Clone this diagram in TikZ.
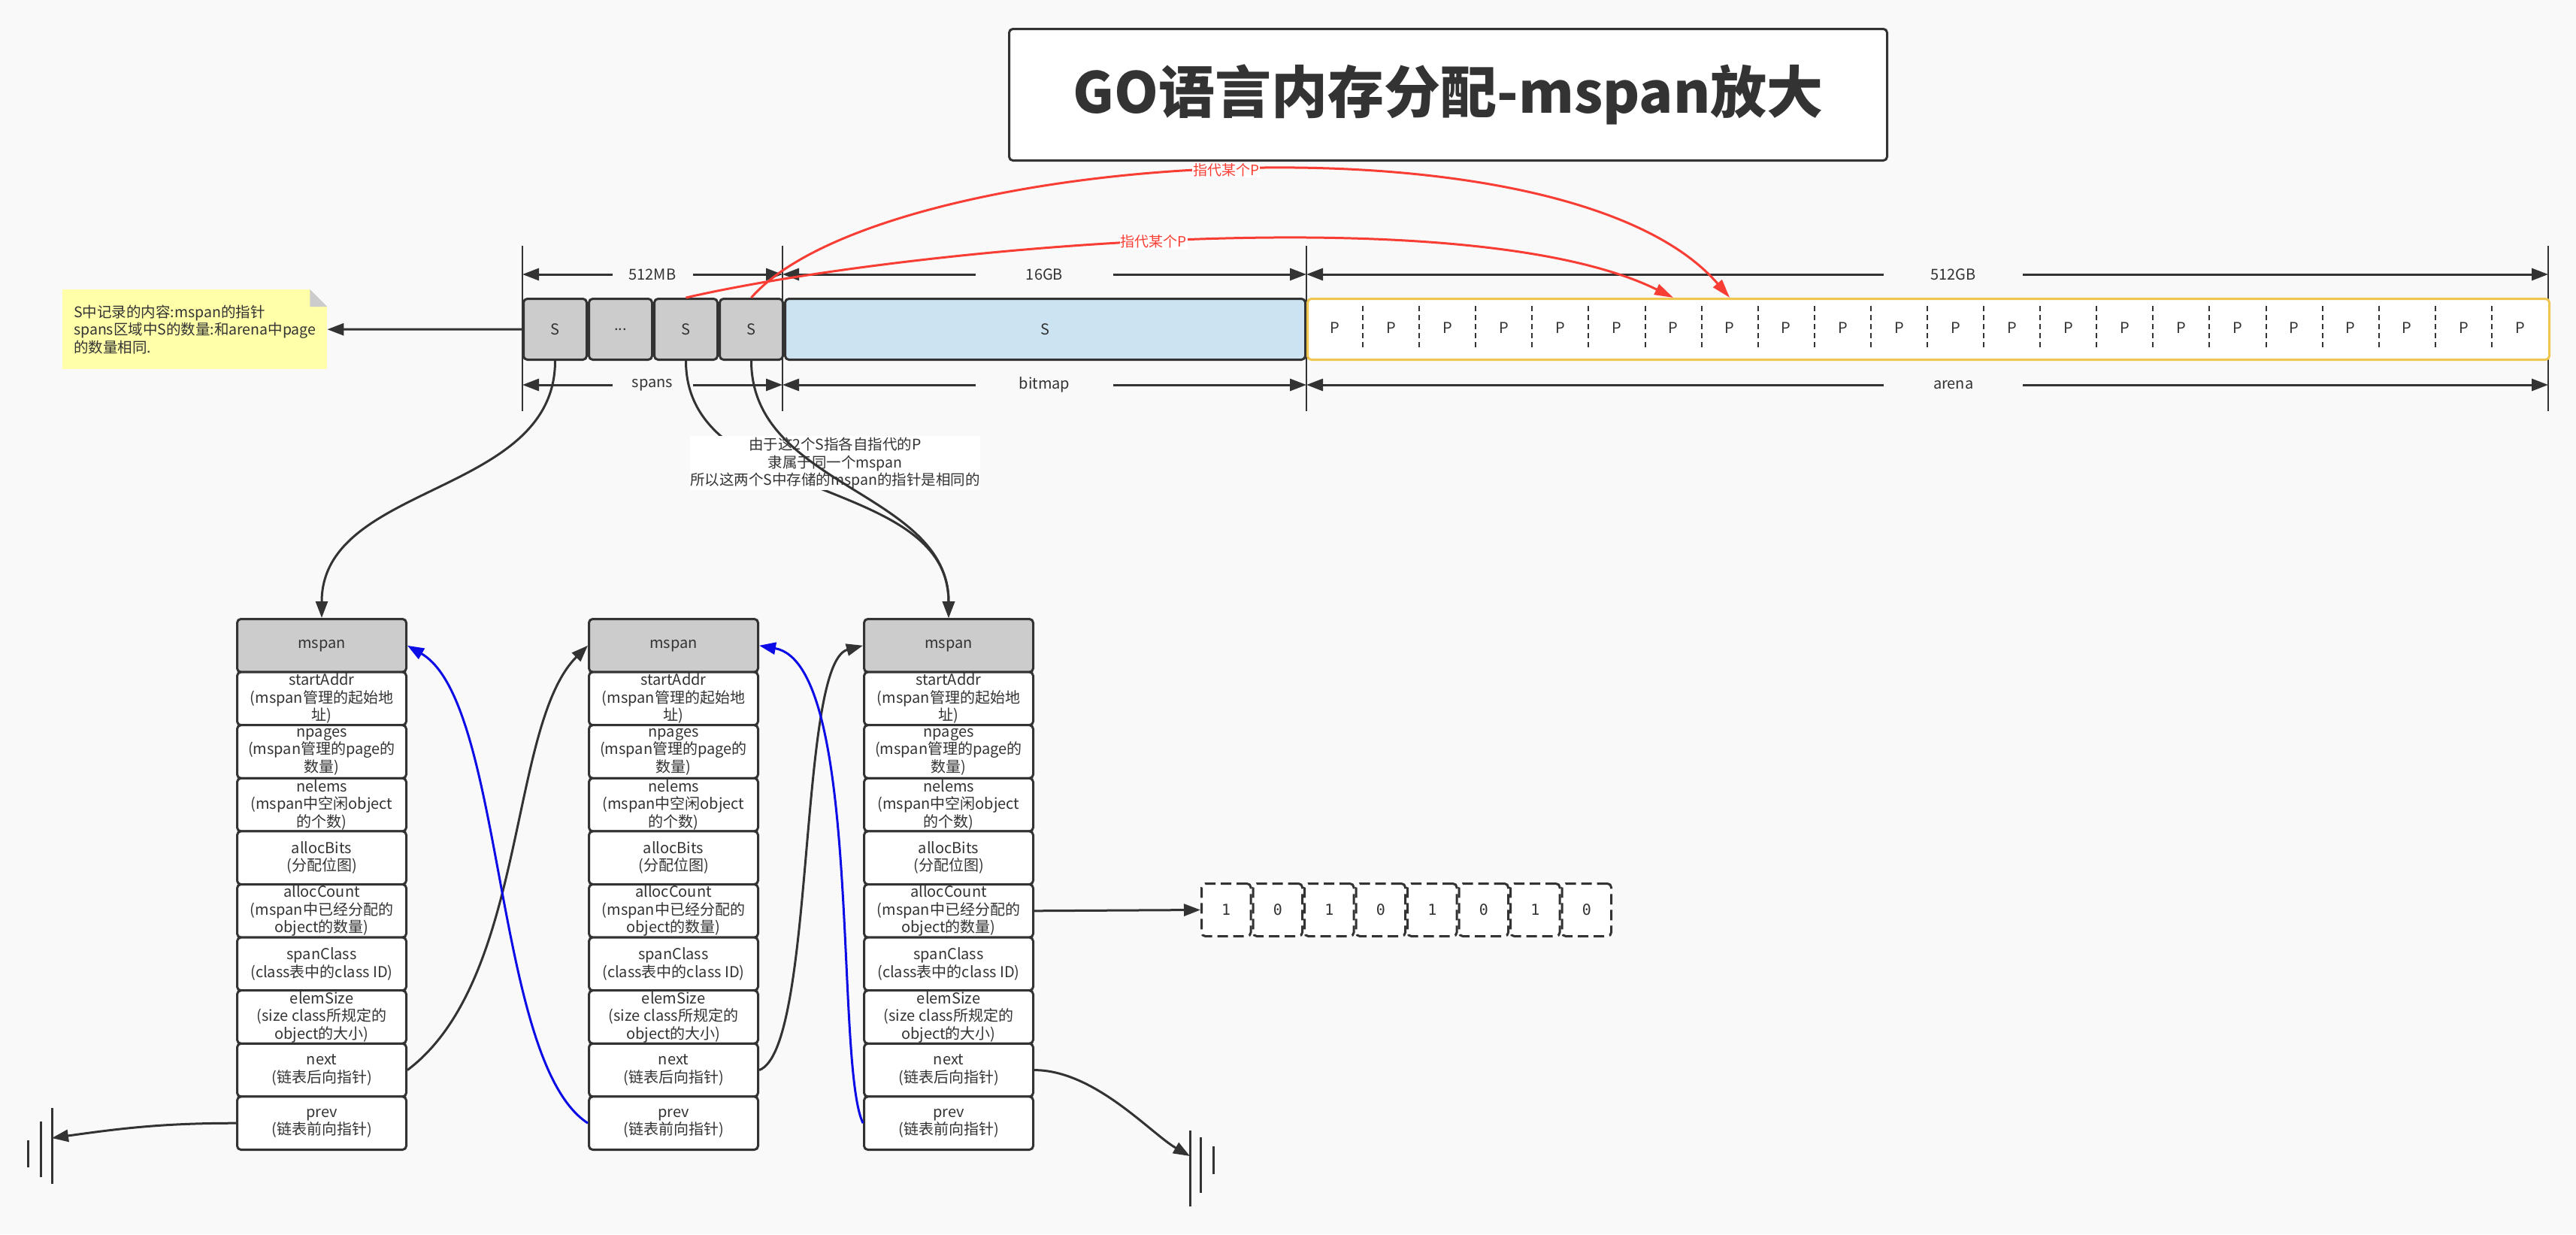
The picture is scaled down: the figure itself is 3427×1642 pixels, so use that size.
\documentclass[tikz,border=0pt]{standalone}
\usepackage{fontspec}
\setmainfont{Noto Sans CJK SC}
\setmonofont{DejaVu Sans Mono}
\usetikzlibrary{positioning,arrows.meta}
\definecolor{bgc}{RGB}{249,249,249}
\definecolor{linec}{RGB}{51,51,51}
\definecolor{sgray}{RGB}{204,204,204}
\definecolor{bmapc}{RGB}{204,228,242}
\definecolor{arenac}{RGB}{238,198,80}
\definecolor{notec}{RGB}{255,255,170}
\definecolor{redc}{RGB}{248,62,52}
\definecolor{bluec}{RGB}{12,12,230}
\newcommand\fsmall{\fontsize{20}{23.5}\selectfont}
\newcommand\fnote{\fontsize{19.5}{23.5}\selectfont}
\tikzset{
  cell/.style={draw=linec, line width=3pt, rounded corners=5pt, text=linec, align=center, inner sep=0pt, font=\fsmall},
  sbox/.style={cell, fill=sgray, minimum width=84pt, minimum height=81pt},
  headbox/.style={cell, fill=sgray, minimum width=225pt, minimum height=70.6pt, anchor=north west},
  fieldbox/.style={cell, fill=white, minimum width=225pt, minimum height=70.6pt, anchor=north west},
  bitbox/.style={cell, fill=white, dash pattern=on 14pt off 7pt, minimum width=65.5pt, minimum height=70pt, font=\ttfamily\fsmall},
  ptext/.style={text=linec, font=\fsmall, inner sep=0pt},
  extline/.style={draw=linec, line width=2.5pt},
  dimline/.style={draw=linec, line width=3pt, {Triangle[length=22pt,width=16pt]}-{Triangle[length=22pt,width=16pt]}},
  dimlabel/.style={fill=bgc, text=linec, font=\fsmall, inner sep=0pt, minimum height=26pt},
  link/.style={draw=linec, line width=3pt, -{Triangle[length=22pt,width=16pt]}},
  backlink/.style={link, draw=bluec},
  pointer/.style={draw=redc, line width=3pt, -{Triangle[length=25pt,width=15pt]}},
  redlabel/.style={fill=white, text=redc, font=\fontsize{19}{22}\selectfont, inner sep=1pt},
  gline/.style={draw=linec, line width=3pt}
}
\begin{document}
\begin{tikzpicture}[x=1pt, y=1pt]
	\fill[bgc] (0,0) rectangle (3427,-1642);
	\useasboundingbox (0,0) rectangle (3427,-1642);
	\node[cell, fill=white, minimum width=1168pt, minimum height=175pt, font=\fontsize{75}{85}\selectfont\bfseries, anchor=north west] (title) at (1341,-37) {GO语言内存分配-mspan放大};
	\foreach \x in {695,1041,1738,3390}
		\draw[extline] (\x,-327) -- (\x,-547);
	\node[sbox, anchor=north west] (s1) at (695,-396) {S};
	\node[sbox, right=0pt of s1] (sdots) {...};
	\node[sbox, right=0pt of sdots] (s3) {S};
	\node[sbox, right=0pt of s3] (s4) {S};
	\node[cell, fill=bmapc, minimum width=692pt, minimum height=81pt, right=0pt of s4] (bmap) {S};
	\node[cell, draw=arenac, fill=white, minimum width=1652pt, minimum height=81pt, right=0pt of bmap] (arena) {};
	\foreach \k in {1,...,22}
		\node[ptext] (p\k) at ({1738+(\k-0.5)*75.09},-436.5) {P};
	\foreach \k in {1,...,21}
		\draw[linec, line width=2pt, dash pattern=on 7pt off 5pt] ({1738+\k*75.09},-407) -- ({1738+\k*75.09},-465);
	\coordinate (d0t) at (695,-365);
	\coordinate (d1t) at (1041,-365);
	\coordinate (d2t) at (1738,-365);
	\coordinate (d3t) at (3390,-365);
	\coordinate (d0b) at (695,-512);
	\coordinate (d1b) at (1041,-512);
	\coordinate (d2b) at (1738,-512);
	\coordinate (d3b) at (3390,-512);
	\draw[dimline] (d0t) -- node[dimlabel, minimum width=107pt] (mb512) {512MB} (d1t);
	\draw[dimline] (d1t) -- node[dimlabel, minimum width=183pt] (gb16) {16GB} (d2t);
	\draw[dimline] (d2t) -- node[dimlabel, pos=0.521, minimum width=185pt] (gb512) {512GB} (d3t);
	\draw[dimline] (d0b) -- node[dimlabel, minimum width=107pt] (spanslbl) {spans} (d1b);
	\draw[dimline] (d1b) -- node[dimlabel, minimum width=183pt] (bitmaplbl) {bitmap} (d2b);
	\draw[dimline] (d2b) -- node[dimlabel, pos=0.521, minimum width=185pt] (arenalbl) {arena} (d3b);
	\node[fill=notec, text=linec, font=\fnote, align=left, text width=322pt, minimum height=106pt, inner xsep=15pt, inner ysep=0pt, anchor=north west] (spannote) at (83,-385) {S中记录的内容:mspan的指针\\spans区域中S的数量:和arena中page\\的数量相同.};
	\fill[bgc] (spannote.north east) -- ++(-23,0) -- ++(23,-23) -- cycle;
	\fill[sgray] ([xshift=-23pt]spannote.north east) -- ++(0,-23) -- ++(23,0) -- cycle;
	\draw[link] (s1.west) -- (spannote.east);
	\coordinate (tgtA) at (p7 |- arena.north);
	\coordinate (tgtB) at (p8 |- arena.north);
	\draw[pointer] (s3.north) .. controls (1200,-330) and (1950,-260) .. node[redlabel, pos=0.475] (ptrlow) {指代某个P} (tgtA);
	\draw[pointer] (s4.north) .. controls (1170,-200) and (2080,-140) .. node[redlabel, pos=0.5] (ptrhigh) {指代某个P} (tgtB);
	\foreach \c/\x in {1/314,2/782,3/1148}{
		\node[headbox] (ms\c) at (\x,-822) {mspan};
		\foreach \n/\lbl [count=\k] in {start/{startAddr\\(mspan管理的起始地\\址)}, npages/{npages\\(mspan管理的page的\\数量)}, nelems/{nelems\\(mspan中空闲object\\的个数)}, bits/{allocBits\\(分配位图)}, count/{allocCount\\(mspan中已经分配的\\object的数量)}, class/{spanClass\\(class表中的class ID)}, size/{elemSize\\(size class所规定的\\object的大小)}, next/{next\\(链表后向指针)}, prev/{prev\\(链表前向指针)}}
			\node[fieldbox] (\n\c) at (\x,{-822-\k*70.6}) {\lbl};
	}
	\draw[link] (s1.south) to[out=-90, in=90] (ms1.north);
	\draw[link] (s3.south) to[out=-90, in=90] (ms3.north);
	\node[fill=white, text=linec, font=\fnote, align=center, minimum width=385pt, minimum height=72pt, inner sep=0pt, anchor=north west] (samenote) at (918,-580) {由于这2个S指各自指代的P\\隶属于同一个mspan\\所以这两个S中存储的mspan的指针是相同的};
	\draw[link] (s4.south) to[out=-90, in=90] (ms3.north);
	\draw[link] (next1.east) .. controls +(37:200) and +(225:150) .. (ms2.west);
	\draw[link] (next2.east) .. controls +(20:80) and +(195:90) .. (ms3.west);
	\draw[backlink] (prev2.west) .. controls +(147:150) and +(-30:150) .. (ms1.east);
	\draw[backlink] (prev3.west) .. controls +(115:90) and +(-10:140) .. (ms2.east);
	\node[bitbox, anchor=north west] (b1) at (1597,-1174) {1};
	\foreach \k/\v [remember=\k as \j (initially 1)] in {2/0,3/1,4/0,5/1,6/0,7/1,8/0}
		\node[bitbox, right=0pt of b\j] (b\k) {\v};
	\draw[link] (count3.east) -- (b1.west);
	\coordinate (gndL) at (69,-1514);
	\coordinate (gndR) at (1583,-1538);
	\draw[gline] (69,-1474) -- (69,-1575);
	\draw[gline] (54,-1492) -- (54,-1566);
	\draw[gline] (37,-1517) -- (37,-1553);
	\draw[gline] (1583,-1504) -- (1583,-1605);
	\draw[gline] (1597,-1513) -- (1597,-1587);
	\draw[gline] (1614,-1525) -- (1614,-1562);
	\draw[link] (prev1.west) to[out=180, in=8] (gndL);
	\draw[link] (next3.east) .. controls +(0:80) and +(150:60) .. (gndR);
\end{tikzpicture}
\end{document}
